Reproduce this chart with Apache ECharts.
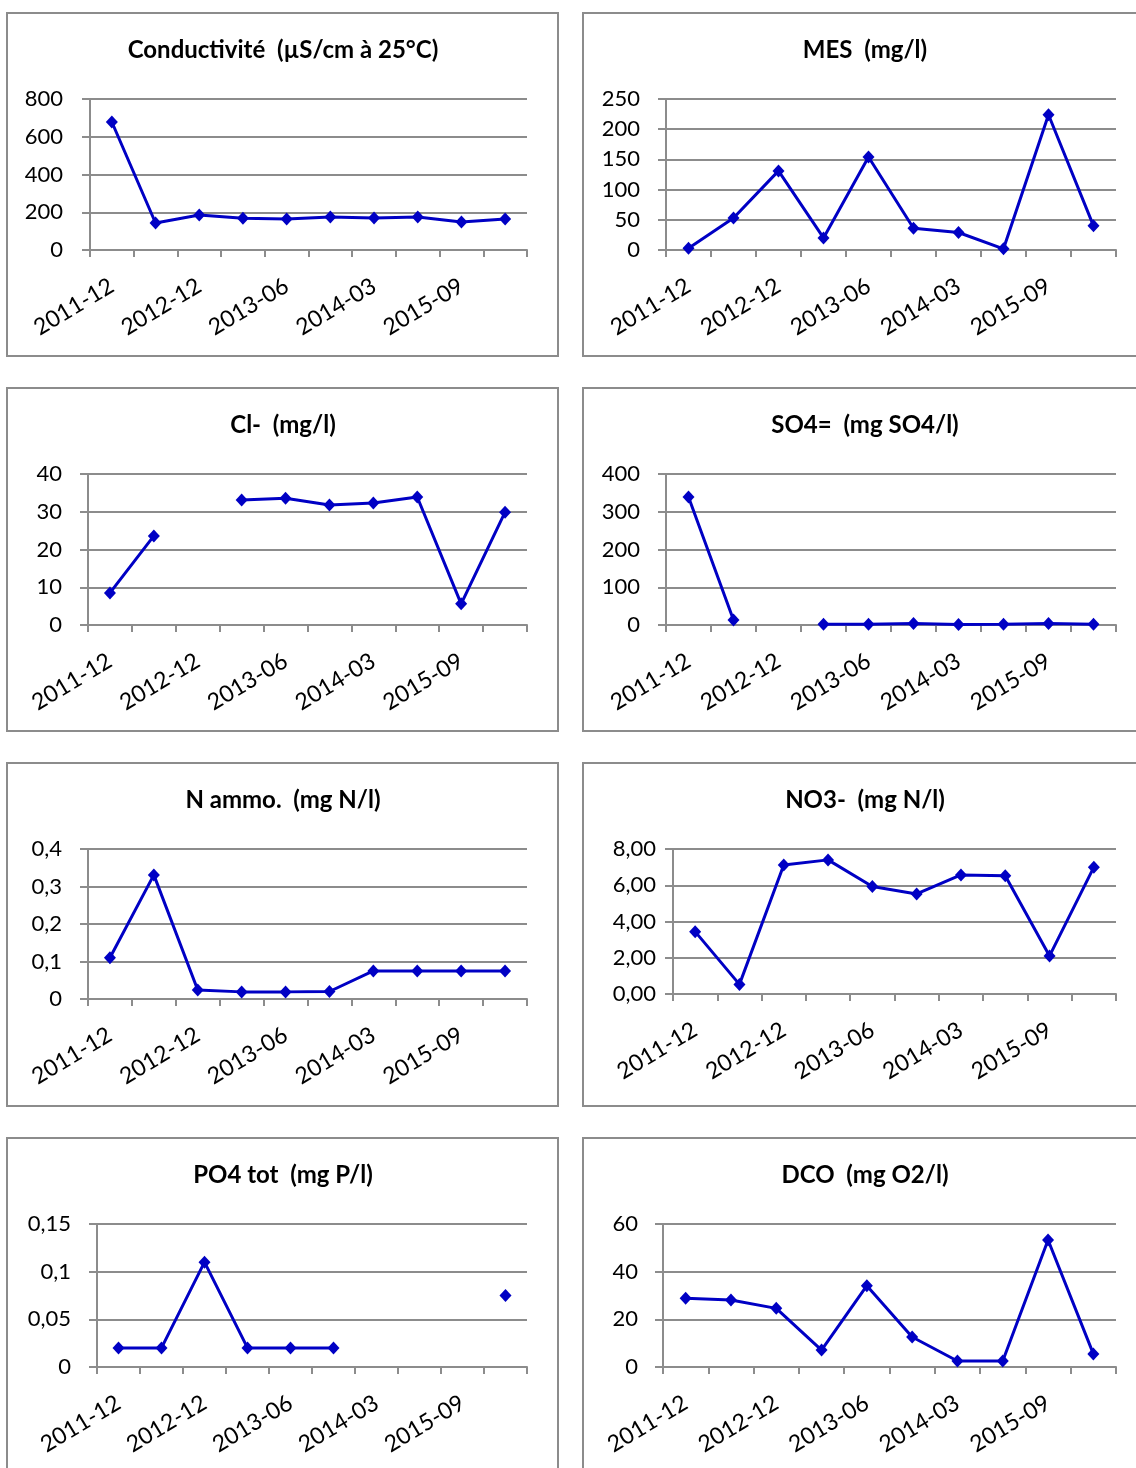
<!DOCTYPE html>
<html>
<head>
<meta charset="utf-8">
<script src="https://cdn.jsdelivr.net/npm/echarts@6/dist/echarts.min.js"></script>
<style>
html,body{margin:0;padding:0;background:#fff;}
#c{width:1136px;height:1468px;}
</style>
</head>
<body>
<div id="c"></div>
<script>
const categories = ['2011-12','2012-06','2012-12','2013-03','2013-06','2013-09','2014-03','2014-09','2015-09','2016-03'];
const conductivite = [678,143,185,168,164,175,170,175,148,164];
const mes = [3,53,131,20,154,36,29,2,224,40];
const chlorure = [8.5,23.6,null,33.1,33.6,31.8,32.3,33.9,5.6,29.9];
const sulfate = [339,13,null,2,2,4,1,2,4,2];
const nAmmo = [0.11,0.331,0.024,0.019,0.019,0.02,0.075,0.075,0.075,0.075];
const nitrate = [3.44,0.53,7.12,7.40,5.93,5.52,6.57,6.52,2.1,7.0];
const po4 = [0.02,0.02,0.11,0.02,0.02,0.02,null,null,null,0.075];
const dco = [28.8,28.1,24.6,7.1,34.1,12.6,2.5,2.5,53.3,5.5];

const titles = ['Conductivité  (µS/cm à 25°C)','MES  (mg/l)','Cl-  (mg/l)','SO4=  (mg SO4/l)',
                'N ammo.  (mg N/l)','NO3-  (mg N/l)','PO4 tot  (mg P/l)','DCO  (mg O2/l)'];
const seriesData = [conductivite, mes, chlorure, sulfate, nAmmo, nitrate, po4, dco];
const yMax = [800,250,40,400,0.4,8,0.15,60];
const yStep = [200,50,10,100,0.1,2,0.05,20];
const yDecimals = [null,null,null,null,null,2,null,null];

// layout (pixels)
const grids = [
  {left:90, top:99, width:437, height:151},
  {left:666, top:99, width:450, height:151},
  {left:88, top:474, width:439, height:151},
  {left:666, top:474, width:450, height:151},
  {left:88, top:849, width:439, height:150},
  {left:673, top:849, width:443, height:145},
  {left:97, top:1224, width:430, height:143},
  {left:663, top:1224, width:453, height:143}
];
const yLabelMargin = [27,26,26,26,26,17,26,25];
const panelX = [7, 583];
const panelW = [551, 570];
const panelY = [13, 388, 763, 1138];
const panelH = 343;

const FONT = 'Lato';
const GRAY = '#8c8c8c';
const BLUE = '#0000C4';

const option = {
  animation: false,
  backgroundColor: '#fff',
  title: [], grid: [], xAxis: [], yAxis: [], series: [],
  graphic: []
};

for (let r = 0; r < 4; r++) {
  for (let c = 0; c < 2; c++) {
    option.graphic.push({
      type: 'rect', silent: true,
      shape: {x: panelX[c], y: panelY[r], width: panelW[c], height: panelH},
      style: {fill: 'none', stroke: GRAY, lineWidth: 2}
    });
  }
}

for (let i = 0; i < 8; i++) {
  const r = Math.floor(i / 2), c = i % 2;
  const cx = c === 0 ? 283 : 865;
  option.graphic.push({
    type: 'text', silent: true,
    style: {
      text: titles[i], x: cx, y: panelY[r] + 37,
      textAlign: 'center', textVerticalAlign: 'middle',
      font: 'bold 24px ' + FONT, fill: '#000'
    }
  });
  option.grid.push(Object.assign({containLabel: false}, grids[i]));
  option.xAxis.push({
    type: 'category', gridIndex: i, data: categories, boundaryGap: true,
    axisLine: {show: true, lineStyle: {color: GRAY, width: 2}},
    axisTick: {show: true, interval: 0, length: 7, lineStyle: {color: GRAY, width: 2}},
    axisLabel: {interval: 1, rotate: 31, margin: 34, fontSize: 23, fontFamily: FONT, color: '#000'},
    splitLine: {show: false}
  });
  const dec = yDecimals[i];
  option.yAxis.push({
    type: 'value', gridIndex: i, min: 0, max: yMax[i], interval: yStep[i],
    axisLine: {show: true, lineStyle: {color: GRAY, width: 2}},
    axisTick: {show: true, length: 8, lineStyle: {color: GRAY, width: 2}},
    axisLabel: {
      margin: yLabelMargin[i], fontSize: 22, fontFamily: FONT, color: '#000',
      formatter: function (v) {
        return (dec !== null ? v.toFixed(dec) : String(v)).replace('.', ',');
      }
    },
    splitLine: {show: true, lineStyle: {color: GRAY, width: 2}}
  });
  option.series.push({
    type: 'line', xAxisIndex: i, yAxisIndex: i, data: seriesData[i],
    connectNulls: false, showSymbol: true, showAllSymbol: true,
    symbol: 'diamond', symbolSize: [12, 13],
    lineStyle: {color: BLUE, width: 3},
    itemStyle: {color: BLUE}
  });
}

const chart = echarts.init(document.getElementById('c'), null, {renderer: 'canvas'});
chart.setOption(option);
</script>
</body>
</html>
